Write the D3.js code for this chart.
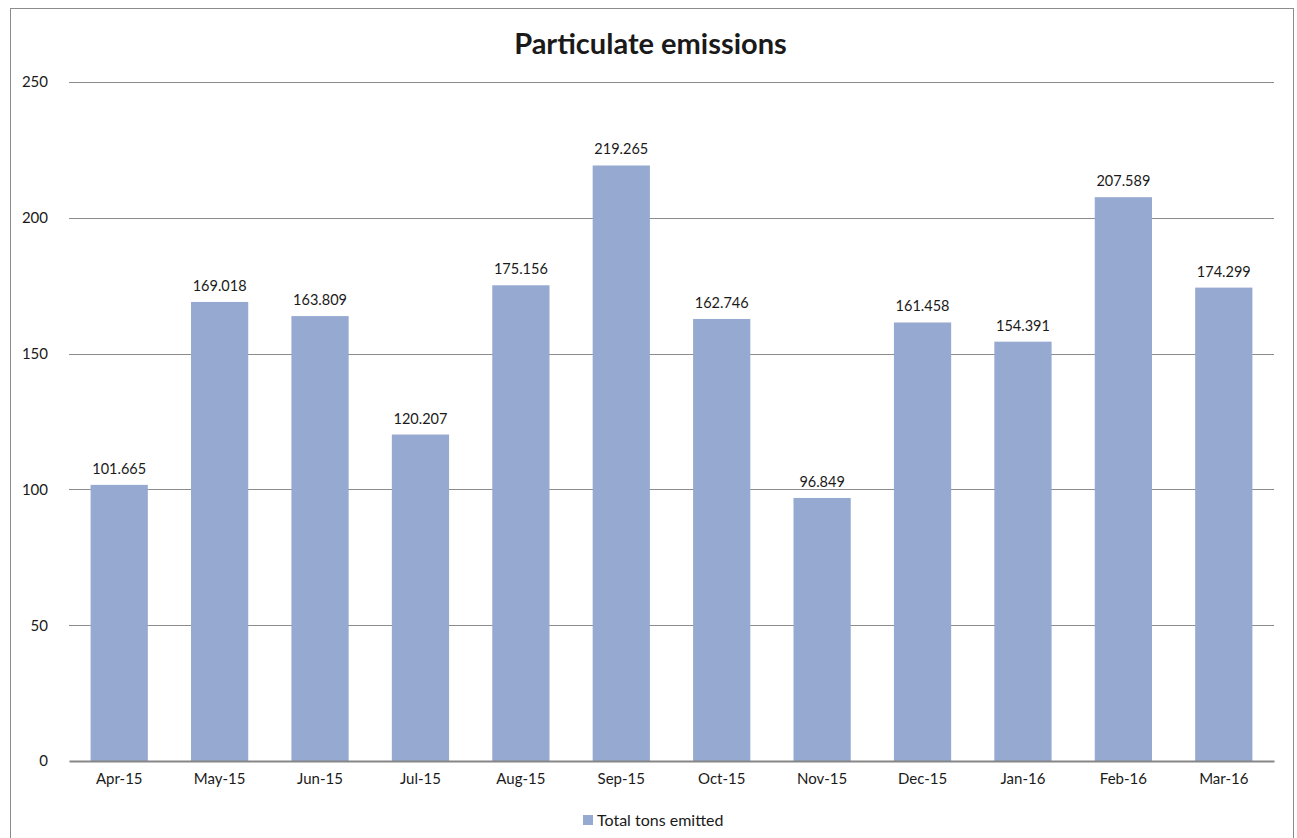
<!DOCTYPE html>
<html>
<head>
<meta charset="utf-8">
<script src="https://cdn.jsdelivr.net/npm/d3@7"></script>
<style>
  body { margin: 0; background: #fff; }
  svg text { font-family: Lato, "Open Sans", sans-serif; fill: #1a1a1a; }
</style>
</head>
<body>
<div id="chart"></div>
<script>
const WIDTH = 1297;
const HEIGHT = 838;

const months = ["Apr-15", "May-15", "Jun-15", "Jul-15", "Aug-15", "Sep-15",
                "Oct-15", "Nov-15", "Dec-15", "Jan-16", "Feb-16", "Mar-16"];
const tons = [101.665, 169.018, 163.809, 120.207, 175.156, 219.265,
              162.746, 96.849, 161.458, 154.391, 207.589, 174.299];
const yTicks = [0, 50, 100, 150, 200, 250];
const seriesName = "Total tons emitted";
const chartTitle = "Particulate emissions";

const BAR_COLOR = "#95a9d1";
const margin = { top: 82, right: 23, bottom: 77, left: 69 };
const width = WIDTH - margin.left - margin.right;
const height = HEIGHT - margin.top - margin.bottom;

const svg = d3.select("#chart").append("svg")
    .attr("width", WIDTH)
    .attr("height", HEIGHT);

// marco del grafico
svg.append("rect")
    .attr("x", 10.5).attr("y", 8.5)
    .attr("width", 1283).attr("height", 840)
    .attr("fill", "none")
    .attr("stroke", "#8c8c8c")
    .attr("stroke-width", 1);

svg.append("text")
    .attr("x", WIDTH / 2 + 2)
    .attr("y", 54)
    .attr("text-anchor", "middle")
    .style("font-size", "29px")
    .style("font-weight", "bold")
    .text(chartTitle);

const g = svg.append("g")
    .attr("transform", `translate(${margin.left},${margin.top})`);

const x = d3.scaleBand()
    .domain(months)
    .range([0, width])
    .paddingInner(0.43)
    .paddingOuter(0.215);

const y = d3.scaleLinear()
    .domain([0, 250])
    .range([height, 0]);

// lineas de cuadricula
g.append("g")
    .selectAll("line")
    .data(yTicks.filter(d => d > 0))
    .join("line")
    .attr("x1", 0).attr("x2", width)
    .attr("y1", d => Math.round(y(d)) + 0.5)
    .attr("y2", d => Math.round(y(d)) + 0.5)
    .attr("stroke", "#8c8c8c")
    .attr("stroke-width", 1);

// Eje Y
const yAxis = g.append("g")
    .call(d3.axisLeft(y).tickValues(yTicks).tickSize(0).tickPadding(21));
yAxis.select(".domain").remove();
yAxis.selectAll("text").style("font-size", "15px");

// Barras
g.selectAll(".bar")
    .data(months.map((m, i) => ({ month: m, value: tons[i] })))
    .join("rect")
    .attr("class", "bar")
    .attr("x", d => x(d.month))
    .attr("y", d => y(d.value))
    .attr("width", x.bandwidth())
    .attr("height", d => height - y(d.value))
    .attr("fill", BAR_COLOR);

// Etiquetas
g.selectAll(".label")
    .data(months.map((m, i) => ({ month: m, value: tons[i] })))
    .join("text")
    .attr("class", "label")
    .attr("x", d => x(d.month) + x.bandwidth() / 2)
    .attr("y", d => y(d.value) - 11)
    .attr("text-anchor", "middle")
    .style("font-size", "14.5px")
    .text(d => d3.format(".3f")(d.value));

// Eje X
const xAxis = g.append("g")
    .attr("transform", `translate(0,${height})`)
    .call(d3.axisBottom(x).tickSize(0).tickPadding(12));
xAxis.select(".domain")
    .attr("stroke", "#868686")
    .attr("stroke-width", 2);
xAxis.selectAll("text").style("font-size", "15px");

// Leyenda
const legend = svg.append("g")
    .attr("transform", "translate(583,815)");
legend.append("rect")
    .attr("width", 10).attr("height", 10)
    .attr("fill", BAR_COLOR);
legend.append("text")
    .attr("x", 14).attr("y", 10.5)
    .style("font-size", "16px")
    .text(seriesName);
</script>
</body>
</html>
